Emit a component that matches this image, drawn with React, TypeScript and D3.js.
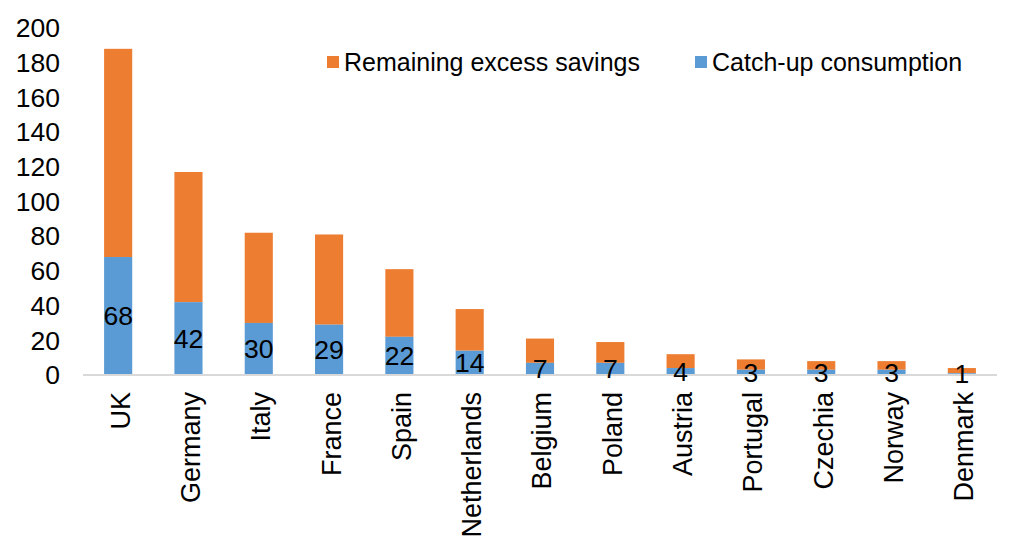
import { useEffect, useRef } from "react";
import * as d3 from "d3";

const COUNTRIES = [
  "UK", "Germany", "Italy", "France", "Spain", "Netherlands", "Belgium",
  "Poland", "Austria", "Portugal", "Czechia", "Norway", "Denmark",
];
// bottom segment (labelled)
const CATCH_UP = [68, 42, 30, 29, 22, 14, 7, 7, 4, 3, 3, 3, 1];
// top segment
const REMAINING = [120, 75, 52, 52, 39, 24, 14, 12, 8, 6, 5, 5, 3];
const Y_TICKS = [0, 20, 40, 60, 80, 100, 120, 140, 160, 180, 200];

const BLUE = "#5b9bd5";
const ORANGE = "#ed7d31";
const FONT = "Liberation Sans, Arial, sans-serif";

export default function App() {
  const svgRef = useRef<SVGSVGElement | null>(null);

  useEffect(() => {
    if (!svgRef.current) return;
    const W = 1024, H = 550;
    const margin = { top: 28, right: 27, bottom: 175, left: 83 };

    const svg = d3.select(svgRef.current);
    svg.selectAll("*").remove();
    svg.attr("width", W).attr("height", H).attr("viewBox", `0 0 ${W} ${H}`);

    const x = d3.scaleBand().domain(COUNTRIES)
      .range([margin.left, W - margin.right])
      .paddingInner(0.6).paddingOuter(0.3);
    const y = d3.scaleLinear().domain([0, 200]).range([H - margin.bottom, margin.top]);

    // y tick labels only, no axis line
    svg.append("g").selectAll("text").data(Y_TICKS).join("text")
      .attr("x", 60).attr("y", (d) => y(d)).attr("dy", "0.35em")
      .attr("text-anchor", "end").attr("font-family", FONT).attr("font-size", 26.5)
      .attr("fill", "#000").text((d) => String(d));

    const rows = COUNTRIES.map((c, i) => ({ c, a: CATCH_UP[i], b: REMAINING[i] }));

    const bars = svg.append("g");
    bars.selectAll("rect.rem").data(rows).join("rect")
      .attr("class", "rem")
      .attr("x", (d) => x(d.c)!).attr("width", x.bandwidth())
      .attr("y", (d) => y(d.a + d.b)).attr("height", (d) => y(d.a) - y(d.a + d.b))
      .attr("fill", ORANGE);
    bars.selectAll("rect.cu").data(rows).join("rect")
      .attr("class", "cu")
      .attr("x", (d) => x(d.c)!).attr("width", x.bandwidth())
      .attr("y", (d) => y(d.a)).attr("height", (d) => y(0) - y(d.a))
      .attr("fill", BLUE);

    // x axis baseline
    svg.append("line")
      .attr("x1", margin.left).attr("x2", W - margin.right)
      .attr("y1", y(0)).attr("y2", y(0))
      .attr("stroke", "#d9d9d9").attr("stroke-width", 2);

    // value labels centred in the catch-up segment
    svg.append("g").selectAll("text").data(rows).join("text")
      .attr("x", (d) => x(d.c)! + x.bandwidth() / 2)
      .attr("y", (d) => (y(0) + y(d.a)) / 2).attr("dy", "0.35em")
      .attr("text-anchor", "middle").attr("font-family", FONT).attr("font-size", 26.5)
      .attr("fill", "#000").text((d) => String(d.a));

    // rotated category labels
    svg.append("g").selectAll("text").data(COUNTRIES).join("text")
      .attr("transform", (d) => `translate(${x(d)! + x.bandwidth() / 2 + 2},${y(0) + 17}) rotate(-90)`)
      .attr("dy", "0.35em").attr("text-anchor", "end")
      .attr("font-family", FONT).attr("font-size", 27).attr("fill", "#000")
      .text((d) => d);

    // legend
    const legend = [
      { label: "Remaining excess savings", color: ORANGE, x: 327 },
      { label: "Catch-up consumption", color: BLUE, x: 695 },
    ];
    const lg = svg.append("g");
    legend.forEach((l) => {
      lg.append("rect").attr("x", l.x).attr("y", 56).attr("width", 12).attr("height", 12).attr("fill", l.color);
      lg.append("text").attr("x", l.x + 17).attr("y", 62).attr("dy", "0.35em")
        .attr("font-family", FONT).attr("font-size", 25).attr("fill", "#000").text(l.label);
    });
  }, []);

  return <svg ref={svgRef} style={{ position: "absolute", left: 0, top: 0, display: "block", background: "#fff" }} />;
}
